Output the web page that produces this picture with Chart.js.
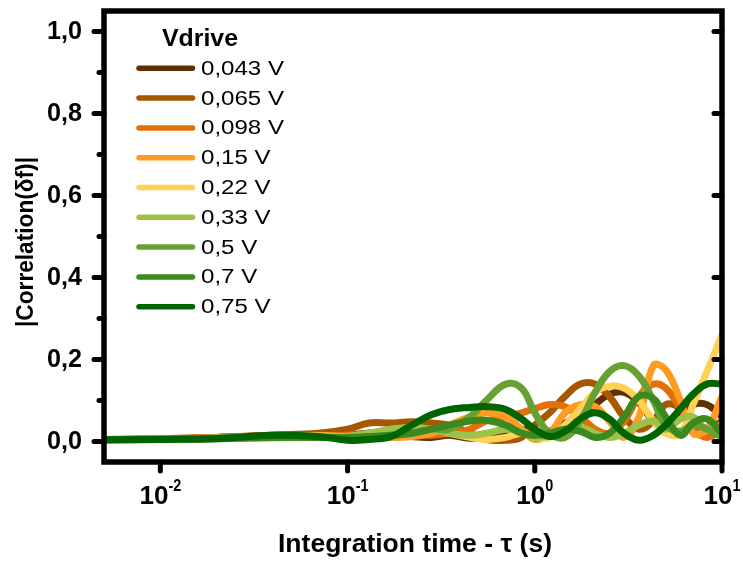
<!DOCTYPE html>
<html>
<head>
<meta charset="utf-8">
<script src="https://cdn.jsdelivr.net/npm/chart.js@4.4.0/dist/chart.umd.min.js"></script>
<style>
  html, body { margin: 0; padding: 0; background: #fff; }
  #wrap { width: 743px; height: 563px; }
</style>
</head>
<body>
<div id="wrap"><canvas id="corrChart" width="743" height="563"></canvas></div>
<script>
// integration time (s), sampled in log steps
const tau = [0.005, 0.01, 0.02, 0.04, 0.07, 0.1, 0.13, 0.17, 0.22, 0.28, 0.35, 0.45, 0.55, 0.7, 0.85,
  1.0, 1.2, 1.45, 1.75, 2.1, 2.5, 3.0, 3.6, 4.3, 5.0, 6.0, 7.0, 8.3, 10];

// |Correlation(δf)| per drive voltage
const v043 = [0.004, 0.006, 0.010, 0.014, 0.015, 0.015, 0.020, 0.018, 0.012, 0.010, 0.015, 0.008, 0.010, 0.020, 0.030,
  0.020, 0.025, 0.045, 0.060, 0.090, 0.115, 0.120, 0.095, 0.050, 0.040, 0.070, 0.090, 0.090, 0.060];
const v065 = [0.004, 0.007, 0.010, 0.016, 0.020, 0.030, 0.045, 0.045, 0.048, 0.045, 0.040, 0.020, 0.005, 0.003, 0.010,
  0.040, 0.070, 0.110, 0.140, 0.140, 0.110, 0.060, 0.030, 0.050, 0.090, 0.080, 0.040, 0.030, 0.050];
const v098 = [0.004, 0.006, 0.010, 0.014, 0.015, 0.015, 0.020, 0.025, 0.020, 0.015, 0.020, 0.030, 0.050, 0.060, 0.070,
  0.080, 0.090, 0.085, 0.060, 0.030, 0.020, 0.050, 0.110, 0.140, 0.130, 0.080, 0.030, 0.010, 0.030];
const v15 = [0.005, 0.006, 0.009, 0.012, 0.013, 0.012, 0.015, 0.010, 0.012, 0.020, 0.040, 0.060, 0.070, 0.060, 0.030,
  0.005, 0.020, 0.070, 0.090, 0.085, 0.050, 0.010, 0.060, 0.185, 0.175, 0.100, 0.020, 0.030, 0.110];
const v22 = [0.005, 0.006, 0.008, 0.012, 0.014, 0.012, 0.015, 0.020, 0.020, 0.030, 0.020, 0.010, 0.005, 0.010, 0.020,
  0.010, 0.010, 0.040, 0.080, 0.120, 0.135, 0.130, 0.100, 0.050, 0.020, 0.020, 0.090, 0.170, 0.260];
const v33 = [0.005, 0.006, 0.008, 0.010, 0.012, 0.012, 0.020, 0.030, 0.035, 0.030, 0.020, 0.015, 0.020, 0.030, 0.025,
  0.010, 0.015, 0.030, 0.035, 0.020, 0.010, 0.020, 0.040, 0.050, 0.030, 0.055, 0.060, 0.030, 0.040];
const v5 = [0.004, 0.005, 0.007, 0.009, 0.010, 0.010, 0.010, 0.015, 0.020, 0.030, 0.030, 0.060, 0.100, 0.140, 0.130,
  0.070, 0.020, 0.010, 0.050, 0.120, 0.170, 0.185, 0.160, 0.100, 0.040, 0.025, 0.040, 0.030, 0.010];
const v7 = [0.005, 0.006, 0.008, 0.010, 0.010, 0.010, 0.012, 0.015, 0.020, 0.030, 0.040, 0.050, 0.052, 0.040, 0.020,
  0.015, 0.020, 0.030, 0.025, 0.010, 0.020, 0.060, 0.110, 0.105, 0.060, 0.015, 0.045, 0.055, 0.020];
const v75 = [0.004, 0.005, 0.007, 0.015, 0.012, 0.003, 0.005, 0.012, 0.040, 0.065, 0.078, 0.083, 0.085, 0.078, 0.055,
  0.030, 0.012, 0.025, 0.055, 0.070, 0.055, 0.020, 0.003, 0.015, 0.040, 0.080, 0.115, 0.140, 0.140];

const seriesNames = ['0,043 V', '0,065 V', '0,098 V', '0,15 V', '0,22 V', '0,33 V', '0,5 V', '0,7 V', '0,75 V'];
const seriesValues = [v043, v065, v098, v15, v22, v33, v5, v7, v75];
const seriesColors = ['#603000', '#A65700', '#E46E08', '#FF9B22', '#FFD155', '#9CC24A', '#69A034', '#3A8A20', '#006400'];

const yMajor = [0, 0.2, 0.4, 0.6, 0.8, 1.0];
const yMinor = [0.1, 0.3, 0.5, 0.7, 0.9];
const yTickLabels = ['0,0', '0,2', '0,4', '0,6', '0,8', '1,0'];
const xMajor = [0.01, 0.1, 1, 10];
const xTickExp = ['-2', '-1', '0', '1'];

const FONT = "'Liberation Sans', Arial, sans-serif";

// draws text squeezed/stretched to a given width
function fitText(ctx, text, x, y, width, align) {
  const w = ctx.measureText(text).width;
  const k = width ? width / w : 1;
  ctx.save();
  ctx.translate(x, y);
  ctx.scale(k, 1);
  ctx.textAlign = align || 'left';
  ctx.fillText(text, 0, 0);
  ctx.restore();
}

const canvas = document.getElementById('corrChart');
const ctx = canvas.getContext('2d');

const chart = new Chart(ctx, {
  type: 'line',
  data: {
    datasets: seriesValues.map((vals, i) => ({
      label: seriesNames[i],
      data: vals.map((v, j) => ({ x: tau[j], y: v })),
      borderColor: seriesColors[i],
      backgroundColor: seriesColors[i],
      borderWidth: 7,
      pointRadius: 0,
      tension: 0.4,
      borderCapStyle: 'round',
      borderJoinStyle: 'round',
      fill: false,
      order: seriesValues.length - 1 - i // later voltages drawn on top
    }))
  },
  options: {
    responsive: false,
    animation: false,
    events: [],
    layout: { padding: { top: 11, right: 21, left: 0, bottom: 0 } },
    plugins: { legend: { display: false }, tooltip: { enabled: false } },
    scales: {
      x: {
        type: 'logarithmic',
        min: 0.005,
        max: 10,
        grid: { display: false },
        border: { display: false },
        ticks: { display: false },
        afterFit(scale) { scale.height = 101; }
      },
      y: {
        type: 'linear',
        min: -0.05,
        max: 1.05,
        grid: { display: false },
        border: { display: false },
        ticks: { display: false },
        afterFit(scale) { scale.width = 104; }
      }
    }
  },
  plugins: [{
    id: 'frameAndText',
    afterDraw(chart) {
      const c = chart.ctx;
      const a = chart.chartArea;
      const xs = chart.scales.x;
      const ys = chart.scales.y;
      c.save();
      c.strokeStyle = '#000';
      c.fillStyle = '#000';

      // frame
      c.lineWidth = 5.5;
      c.lineJoin = 'miter';
      c.strokeRect(a.left, a.top, a.right - a.left, a.bottom - a.top);

      // ticks
      c.lineCap = 'round';
      c.lineWidth = 5;
      c.beginPath();
      yMajor.forEach(v => {
        const py = ys.getPixelForValue(v);
        c.moveTo(a.left, py); c.lineTo(a.left - 10, py);
        c.moveTo(a.right, py); c.lineTo(a.right - 8, py);
      });
      yMinor.forEach(v => {
        const py = ys.getPixelForValue(v);
        c.moveTo(a.left, py); c.lineTo(a.left - 5, py);
      });
      xMajor.forEach(t => {
        const px = xs.getPixelForValue(t);
        c.moveTo(px, a.bottom); c.lineTo(px, a.bottom + 9);
      });
      c.stroke();

      // y tick labels
      c.textBaseline = 'middle';
      c.font = 'bold 25px ' + FONT;
      yMajor.forEach((v, i) => {
        fitText(c, yTickLabels[i], 82, ys.getPixelForValue(v) + 1, 35, 'right');
      });

      // x tick labels 10^n
      c.textBaseline = 'alphabetic';
      xMajor.forEach((t, i) => {
        const px = xs.getPixelForValue(t);
        c.font = 'bold 26px ' + FONT;
        const wBase = 29;
        c.font = 'bold 17px ' + FONT;
        const wExp = c.measureText(xTickExp[i]).width * 0.85;
        const x0 = px - (wBase + wExp) / 2;
        c.font = 'bold 26px ' + FONT;
        fitText(c, '10', x0, 504, wBase, 'left');
        c.font = 'bold 17px ' + FONT;
        fitText(c, xTickExp[i], x0 + wBase, 491, wExp, 'left');
      });

      // axis titles
      c.font = 'bold 25px ' + FONT;
      fitText(c, 'Integration time - \u03C4 (s)', 415, 552, 274, 'center');
      c.save();
      c.translate(33, 242);
      c.rotate(-Math.PI / 2);
      c.font = 'bold 24px ' + FONT;
      fitText(c, '|Correlation(\u03B4f)|', 0, 0, 170, 'center');
      c.restore();

      // legend
      c.font = 'bold 24px ' + FONT;
      c.textBaseline = 'middle';
      fitText(c, 'Vdrive', 162, 39, 76, 'left');
      c.font = '20px ' + FONT;
      const k = 83 / c.measureText(seriesNames[0]).width;
      chart.data.datasets.forEach((ds, i) => {
        const ly = 68.3 + i * 29.8;
        c.strokeStyle = ds.borderColor;
        c.lineWidth = 5.5;
        c.lineCap = 'round';
        c.beginPath();
        c.moveTo(139, ly); c.lineTo(192.5, ly);
        c.stroke();
        c.fillStyle = '#000';
        fitText(c, ds.label, 201, ly + 1, c.measureText(ds.label).width * k, 'left');
      });
      c.restore();
    }
  }]
});
</script>
</body>
</html>
